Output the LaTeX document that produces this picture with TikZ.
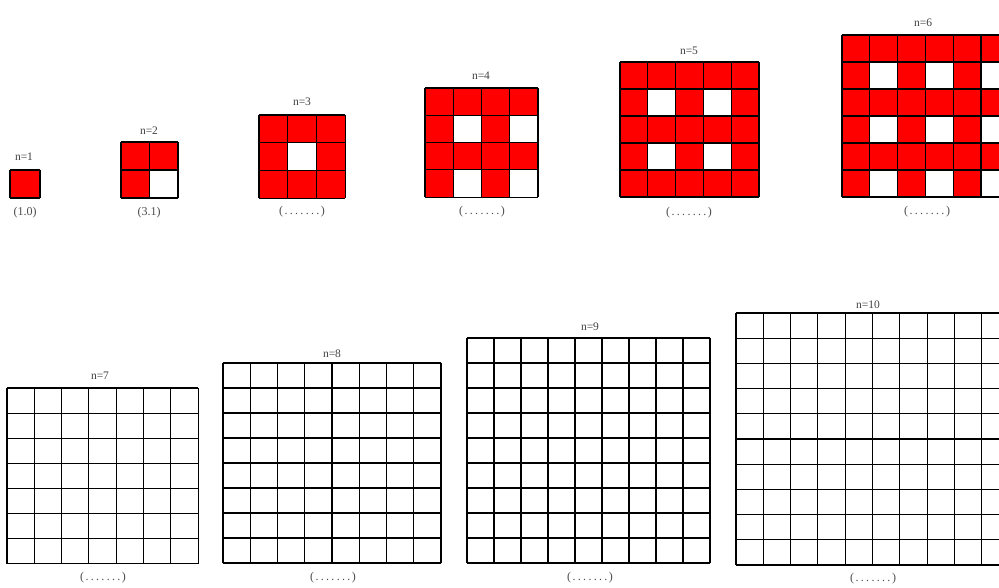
\documentclass[tikz,border=0pt]{standalone}
\usepackage{fontspec}
\setmainfont{Liberation Serif}
\tikzset{
  gridline/.style={draw=black,line width=1.1pt},
  redcell/.style={fill=red},
  lab/.style={font=\fontsize{11.5}{12}\selectfont,inner sep=0pt,text=black!75},
  brk/.style={font=\fontsize{12}{13}\selectfont,inner sep=0pt,text=black!70}
}
% #1 x0, #2 y0, #3 n, #4 cell width, #5 cell height, #6 coloured (1/0)
\newcommand\drawsqgrid[6]{%
  \ifnum#6=1
    \foreach \i in {1,...,#3}{%
      \foreach \j in {1,...,#3}{%
        \pgfmathtruncatemacro\wcell{(mod(\i,2)==0)&&(mod(\j,2)==0)}%
        \ifnum\wcell=0
          \fill[redcell] ({#1+(\i-1)*#4},{#2+(\j-1)*#5}) rectangle ++(#4,#5);
        \fi
      }%
    }%
  \fi
  \foreach \k in {0,...,#3}{%
    \draw[gridline] ({#1+\k*#4},#2) -- ++(0,{#3*#5});
    \draw[gridline] (#1,{#2+\k*#5}) -- ++({#3*#4},0);
  }%
}
\newcommand\dotsbr{(\makebox[38pt]{\dotfill})}
\begin{document}
\begin{tikzpicture}[x=1pt,y=-1pt]
\useasboundingbox (0,0) rectangle (999,588);
\begin{scope}
\clip (0,0) rectangle (999,588);
% top row
\drawsqgrid{10}{170}{1}{30}{28}{1}
\drawsqgrid{121}{142}{2}{28.5}{28}{1}
\drawsqgrid{259}{115}{3}{28.7}{27.7}{1}
\drawsqgrid{425}{88}{4}{28.25}{27.3}{1}
\drawsqgrid{620}{62}{5}{27.8}{27}{1}
\drawsqgrid{842}{35}{6}{27.8}{27}{1}
% bottom row
\drawsqgrid{7}{388}{7}{27.3}{25.1}{0}
\drawsqgrid{223}{363}{8}{27.25}{25}{0}
\drawsqgrid{467}{338}{9}{27}{25}{0}
\drawsqgrid{736}{313}{10}{27.3}{25.2}{0}
\end{scope}
% labels top
\node[lab] (n1) at (24,157) {n=1};
\node[brk] (b1) at (25,213) {(1.0)};
\node[lab] (n2) at (149,131) {n=2};
\node[brk] (b2) at (149,213) {(3.1)};
\node[lab] (n3) at (302,102) {n=3};
\node[brk] (b3) at (302,212) {\dotsbr};
\node[lab] (n4) at (481,76) {n=4};
\node[brk] (b4) at (482,212) {\dotsbr};
\node[lab] (n5) at (689,51) {n=5};
\node[brk] (b5) at (689,213) {\dotsbr};
\node[lab] (n6) at (923,23) {n=6};
\node[brk] (b6) at (927,212) {\dotsbr};
% labels bottom
\node[lab] (n7) at (100,376) {n=7};
\node[brk] (b7) at (103,578) {\dotsbr};
\node[lab] (n8) at (332,354) {n=8};
\node[brk] (b8) at (333,578) {\dotsbr};
\node[lab] (n9) at (590,327) {n=9};
\node[brk] (b9) at (590,578) {\dotsbr};
\node[lab] (n10) at (868,305) {n=10};
\node[brk] (b10) at (873,579) {\dotsbr};
\end{tikzpicture}
\end{document}
